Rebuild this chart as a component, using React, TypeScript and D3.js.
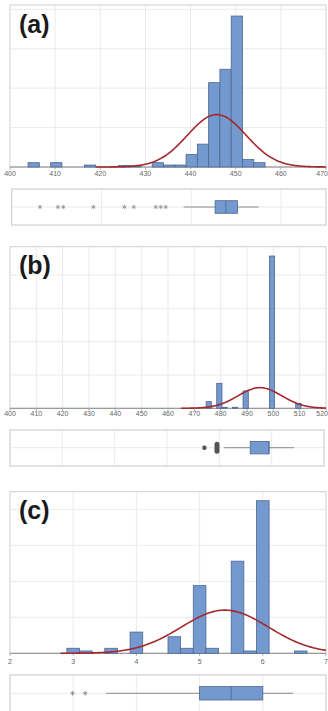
import React from 'react';
import * as d3 from 'd3';

// (a)
const aTicks = ['400', '410', '420', '430', '440', '450', '460', '470'];
const aBinStarts = [404, 409, 416.5, 424, 426.5, 431.5, 434, 436.5, 439, 441.5, 444, 446.5, 449, 451.5, 454];
const aHeights = [1.1, 1.1, 0.5, 0.4, 0.3, 1.1, 0.5, 0.5, 3.2, 5.8, 21.4, 24.8, 38.3, 1.9, 1.1];
const aFit = [445.8, 6.5, 13.3]; // mean, sd, peak
const aBox = [438.3, 445.3, 447.7, 450.3, 455]; // whisker lo, q1, median, q3, whisker hi
const aOutliers = [406.3, 410.3, 411.5, 418.2, 425.1, 427.2, 432.1, 433.2, 434.3];

// (b)
const bTicks = ['400', '410', '420', '430', '440', '450', '460', '470', '480', '490', '500', '510', '520'];
const bBinStarts = [474.5, 478.5, 480.5, 484.5, 488.5, 498.5, 508.5];
const bHeights = [2.0, 7.5, 0.3, 0.3, 5.2, 45.7, 1.5];
const bFit = [494.9, 8.3, 6.2];
const bBox = [481.8, 491.8, 499, 499, 508.6];
const bOutliers = [474.3, 479.1];
const bOutlierCounts = [1, 4];

// (c)
const cTicks = ['2', '3', '4', '5', '6', '7'];
const cBinStarts = [2.9, 3.1, 3.5, 3.9, 4.5, 4.7, 4.9, 5.1, 5.5, 5.7, 5.9, 6.5];
const cHeights = [1.4, 0.65, 1.4, 5.9, 4.6, 1.4, 18.8, 1.4, 25.6, 0.65, 42.4, 0.65];
const cFit = [5.4, 0.69, 12.0];
const cBox = [3.52, 5.0, 5.5, 6.0, 6.48];
const cOutliers = [2.99, 3.19];

const BAR_FILL = '#7399cf';
const BAR_STROKE = '#4e6792';
const CURVE = '#a3292d';
const FRAME = '#cfcfcf';
const GRID = '#ebebeb';

const panels = [
  {
    label: '(a)', ticks: aTicks, starts: aBinStarts, binW: 2.5, heights: aHeights, fit: aFit, fitFrom: 419,
    box: aBox, outliers: aOutliers, counts: aOutliers.map(() => 1), outColor: '#9a9a9a',
    yMax: 41.1, histTop: 5, histBottom: 167, labelY: 175.5,
    boxX: [11.7, 326], boxTop: 189, boxBottom: 225, boxMid: 207, boxHalf: 6.3, boxGridStep: 20,
  },
  {
    label: '(b)', ticks: bTicks, starts: bBinStarts, binW: 2, heights: bHeights, fit: bFit, fitFrom: 465,
    box: bBox, outliers: bOutliers, counts: bOutlierCounts, outColor: '#555',
    yMax: 48.5, histTop: 246.7, histBottom: 408.3, labelY: 416,
    boxX: [10, 324], boxTop: 430, boxBottom: 466, boxMid: 447.7, boxHalf: 6.2, boxGridStep: 20,
  },
  {
    label: '(c)', ticks: cTicks, starts: cBinStarts, binW: 0.2, heights: cHeights, fit: cFit, fitFrom: 2.8,
    box: cBox, outliers: cOutliers, counts: cOutliers.map(() => 1), outColor: '#8a8a8a',
    yMax: 44.9, histTop: 491.7, histBottom: 653.3, labelY: 664,
    boxX: [10, 326], boxTop: 675, boxBottom: 720, boxMid: 693.3, boxHalf: 6.7, boxGridStep: 1,
  },
];

const Panel = ({ p }: { p: any }) => {
  const vals = p.ticks.map(Number);
  const lo = vals[0];
  const hi = vals[vals.length - 1];
  const x = d3.scaleLinear().domain([lo, hi]).range([10, 326]);
  const y = d3.scaleLinear().domain([0, p.yMax]).range([p.histBottom, p.histTop]);
  const bx = d3.scaleLinear().domain([lo, hi]).range(p.boxX);

  const [mean, sd, peak] = p.fit;
  const pts = d3.range(0, 201).map(i => p.fitFrom + ((hi - p.fitFrom) * i) / 200);
  const line = d3
    .line<number>()
    .x(v => x(v))
    .y(v => y(peak * Math.exp(-0.5 * ((v - mean) / sd) ** 2)))
    .curve(d3.curveBasis);

  const yGrid = d3.range(10, p.yMax, 10);
  const boxGrid = d3.range(lo + p.boxGridStep, hi, p.boxGridStep).map(v => +v.toFixed(4));
  const [wl, q1, med, q3, wh] = p.box;
  const star = d3.symbol(d3.symbolAsterisk, 14)();
  const last = vals.length - 1;

  return (
    <g>
      {/* histogram grid */}
      {vals.slice(1, -1).map((v: number) => (
        <line key={'vx' + v} x1={x(v)} x2={x(v)} y1={p.histTop} y2={p.histBottom} stroke={GRID} />
      ))}
      {yGrid.map(v => (
        <line key={'hy' + v} x1={10} x2={326} y1={y(v)} y2={y(v)} stroke={GRID} />
      ))}
      <rect x={10} y={p.histTop} width={316} height={p.histBottom - p.histTop} fill="none" stroke={FRAME} />
      <line x1={10} x2={326} y1={p.histBottom} y2={p.histBottom} stroke="#8c8c8c" />
      {vals.map((v: number, i: number) => (
        <g key={'t' + v}>
          <line x1={x(v)} x2={x(v)} y1={p.histBottom} y2={p.histBottom + 2.5} stroke="#aaa" />
          <text
            x={i === last ? 328 : x(v)}
            y={p.labelY}
            fontSize={7}
            fill="#666"
            textAnchor={i === last ? 'end' : 'middle'}
            fontFamily="Liberation Sans, Arial, sans-serif"
          >
            {p.ticks[i]}
          </text>
        </g>
      ))}

      {/* bars */}
      {p.starts.map((s: number, i: number) => (
        <rect
          key={'b' + i}
          x={x(s)}
          y={y(p.heights[i])}
          width={x(s + p.binW) - x(s)}
          height={p.histBottom - y(p.heights[i])}
          fill={BAR_FILL}
          stroke={BAR_STROKE}
          strokeWidth={0.8}
        />
      ))}

      <path d={line(pts) || ''} fill="none" stroke={CURVE} strokeWidth={1.6} />

      <text x={19} y={p.histTop + 27.5} fontSize={25} fontWeight="bold" fill="#1a1a1a" fontFamily="Liberation Sans, Arial, sans-serif">
        {p.label}
      </text>

      {/* boxplot */}
      {boxGrid.map((v: number) => (
        <line key={'bg' + v} x1={bx(v)} x2={bx(v)} y1={p.boxTop} y2={p.boxBottom} stroke={GRID} />
      ))}
      <line x1={p.boxX[0]} x2={p.boxX[1]} y1={p.boxMid} y2={p.boxMid} stroke={GRID} />
      <rect x={p.boxX[0]} y={p.boxTop} width={p.boxX[1] - p.boxX[0]} height={p.boxBottom - p.boxTop} fill="none" stroke={FRAME} strokeWidth={1.2} />
      <line x1={bx(wl)} x2={bx(q1)} y1={p.boxMid} y2={p.boxMid} stroke="#8c8c8c" strokeWidth={1} />
      <line x1={bx(q3)} x2={bx(wh)} y1={p.boxMid} y2={p.boxMid} stroke="#8c8c8c" strokeWidth={1} />
      <rect x={bx(q1)} y={p.boxMid - p.boxHalf} width={bx(q3) - bx(q1)} height={p.boxHalf * 2} fill={BAR_FILL} stroke={BAR_STROKE} strokeWidth={0.8} />
      <line x1={bx(med)} x2={bx(med)} y1={p.boxMid - p.boxHalf} y2={p.boxMid + p.boxHalf} stroke={BAR_STROKE} strokeWidth={0.8} />
      {p.outliers.map((v: number, i: number) =>
        p.counts[i] > 1 ? (
          <rect
            key={'o' + i}
            x={bx(v) - 2.5}
            y={p.boxMid - Math.min(p.boxHalf, 1.5 * p.counts[i])}
            width={5}
            height={2 * Math.min(p.boxHalf, 1.5 * p.counts[i])}
            rx={2.5}
            fill={p.outColor}
          />
        ) : (
          <path
            key={'o' + i}
            d={star || ''}
            transform={`translate(${bx(v)},${p.boxMid})`}
            fill="none"
            stroke={p.outColor}
            strokeWidth={p.outColor === '#555' ? 1.8 : 0.9}
          />
        )
      )}
    </g>
  );
};

export default function App() {
  return (
    <svg
      width={328}
      height={711}
      style={{ position: 'absolute', left: 0, top: 0, display: 'block', background: '#fff' }}
    >
      <rect width={328} height={711} fill="#fff" />
      {panels.map(p => (
        <Panel key={p.label} p={p} />
      ))}
    </svg>
  );
}
